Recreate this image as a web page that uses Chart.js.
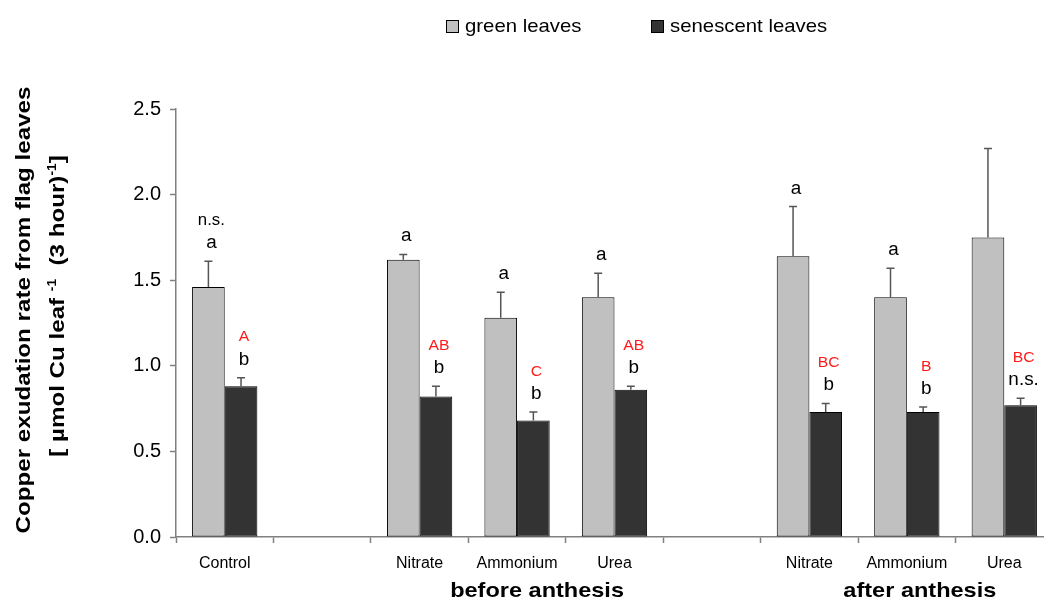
<!DOCTYPE html>
<html>
<head>
<meta charset="utf-8">
<title>Copper exudation rate from flag leaves</title>
<script src="https://cdn.jsdelivr.net/npm/chart.js@4.4.1/dist/chart.umd.min.js"></script>
<style>
  html, body { margin: 0; padding: 0; background: #ffffff; overflow: hidden; }
  #wrap { position: absolute; left: 0; top: 0; width: 1053px; height: 600px; }
  canvas { display: block; }
</style>
</head>
<body>
<div id="wrap"><canvas id="chart" width="1053" height="600"></canvas></div>
<script>
// Treatments along the x axis; empty entries separate the three blocks.
const categories = ['Control', '', 'Nitrate', 'Ammonium', 'Urea', '', 'Nitrate', 'Ammonium', 'Urea'];

// Mean Cu exudation rate and its error (upper half only is drawn).
const greenValues    = [1.46, null, 1.62, 1.28, 1.40, null, 1.64, 1.40, 1.75];
const greenErrors    = [0.15, null, 0.03, 0.15, 0.14, null, 0.29, 0.17, 0.52];
const senescentValues = [0.88, null, 0.82, 0.68, 0.86, null, 0.73, 0.73, 0.77];
const senescentErrors = [0.05, null, 0.06, 0.05, 0.02, null, 0.05, 0.03, 0.04];

// Significance letters above each bar.
const greenTopLetters     = ['n.s.', '', '', '', '', '', '', '', ''];
const greenLetters        = ['a', '', 'a', 'a', 'a', '', 'a', 'a', ''];
const senescentLetters    = ['b', '', 'b', 'b', 'b', '', 'b', 'b', 'n.s.'];
const treatmentLetters    = ['A', '', 'AB', 'C', 'AB', '', 'BC', 'B', 'BC'];

// Y axis range and tick step.
const yMin = 0, yMax = 2.5, yStep = 0.5;

// Block captions under the category labels.
const blockNames  = ['before anthesis', 'after anthesis'];
const blockFirst  = [2, 6];
const blockLast   = [4, 8];

const seriesNames = ['green leaves', 'senescent leaves'];
const errorSets = [greenErrors, senescentErrors];

const FONT = '"Liberation Sans", Arial, Helvetica, sans-serif';

// Text helper: optional horizontal stretch along the reading direction.
function stretchedText(ctx, text, x, y, size, bold, sx, align, baseline, color) {
  ctx.save();
  ctx.font = (bold ? 'bold ' : '') + size + 'px ' + FONT;
  ctx.fillStyle = color || '#000';
  ctx.textBaseline = baseline || 'middle';
  ctx.textAlign = 'left';
  const w = ctx.measureText(text).width * sx;
  let left = x;
  if (align === 'center') left = x - w / 2;
  else if (align === 'right') left = x - w;
  ctx.translate(left, y);
  ctx.scale(sx, 1);
  ctx.fillText(text, 0, 0);
  ctx.restore();
  return w;
}

// Upper error bars with caps.
const errorBarPlugin = {
  id: 'errorBars',
  afterDatasetsDraw(chart) {
    const ctx = chart.ctx;
    const y = chart.scales.y;
    ctx.save();
    ctx.strokeStyle = '#555555';
    ctx.lineWidth = 1.5;
    chart.data.datasets.forEach((ds, di) => {
      const meta = chart.getDatasetMeta(di);
      meta.data.forEach((bar, i) => {
        const v = ds.data[i];
        const e = errorSets[di][i];
        if (v == null || e == null) return;
        const top = y.getPixelForValue(v + e);
        ctx.beginPath();
        ctx.moveTo(bar.x, bar.y);
        ctx.lineTo(bar.x, top);
        ctx.moveTo(bar.x - 4, top);
        ctx.lineTo(bar.x + 4, top);
        ctx.stroke();
      });
    });
    ctx.restore();
  }
};

// Letters above bars.
const letterPlugin = {
  id: 'letters',
  afterDatasetsDraw(chart) {
    const ctx = chart.ctx;
    const y = chart.scales.y;
    const place = (di, i, stack) => {
      const ds = chart.data.datasets[di];
      const v = ds.data[i];
      if (v == null) return;
      const bar = chart.getDatasetMeta(di).data[i];
      const top = y.getPixelForValue(v + errorSets[di][i]);
      let cy = top - 18;
      stack.forEach(([txt, size, color]) => {
        if (txt) stretchedText(ctx, txt, bar.x + 3, cy, size, false, 1.05, 'center', 'middle', color);
        cy -= 22.5;
      });
    };
    categories.forEach((c, i) => {
      place(0, i, [[greenLetters[i], 18, '#000'], [greenTopLetters[i], 16, '#000']]);
      place(1, i, [[senescentLetters[i], 18, '#000'], [treatmentLetters[i], 15, '#ff1a1a']]);
    });
  }
};

// Legend, y-axis title and block captions.
const annotationPlugin = {
  id: 'annotations',
  afterDraw(chart) {
    const ctx = chart.ctx;
    const x = chart.scales.x;
    // legend
    const legendX = [446, 651];
    chart.data.datasets.forEach((ds, di) => {
      ctx.save();
      ctx.fillStyle = ds.backgroundColor;
      ctx.strokeStyle = '#000';
      ctx.lineWidth = 1;
      ctx.fillRect(legendX[di] + 0.5, 20.5, 12, 12);
      ctx.strokeRect(legendX[di] + 0.5, 20.5, 12, 12);
      ctx.restore();
      stretchedText(ctx, seriesNames[di], legendX[di] + 19, 27, 18.5, false, 1.1, 'left', 'middle');
    });

    // y-axis title, two rotated lines
    ctx.save();
    ctx.translate(30, 310);
    ctx.rotate(-Math.PI / 2);
    stretchedText(ctx, 'Copper exudation rate from flag leaves', 0, 0, 21, true, 1.15, 'center', 'alphabetic');
    ctx.restore();

    ctx.save();
    ctx.translate(63.5, 306);
    ctx.rotate(-Math.PI / 2);
    const parts = [
      ['[ µmol Cu leaf ', false],
      ['-1', true],
      ['  (3 hour)', false],
      ['-1', true],
      [']', false]
    ];
    const sx = 1.15;
    let total = 0;
    parts.forEach(([t, sup]) => {
      ctx.font = 'bold ' + (sup ? 12 : 21) + 'px ' + FONT;
      total += ctx.measureText(t).width * sx;
    });
    let cx = -total / 2;
    parts.forEach(([t, sup]) => {
      cx += stretchedText(ctx, t, cx, sup ? -8 : 0, sup ? 12 : 21, true, sx, 'left', 'alphabetic');
    });
    ctx.restore();

    // block captions
    const nudge = [20, 13];
    blockNames.forEach((name, k) => {
      const cxp = (x.getPixelForValue(blockFirst[k]) + x.getPixelForValue(blockLast[k])) / 2 + nudge[k];
      stretchedText(ctx, name, cxp, 591, 21, true, 1.12, 'center', 'middle');
    });
  }
};

new Chart(document.getElementById('chart'), {
  type: 'bar',
  data: {
    labels: categories,
    datasets: [
      {
        label: seriesNames[0],
        data: greenValues,
        backgroundColor: '#c0c0c0',
        borderColor: '#000000',
        borderWidth: 1,
        borderSkipped: false
      },
      {
        label: seriesNames[1],
        data: senescentValues,
        backgroundColor: '#333333',
        borderColor: '#000000',
        borderWidth: 1,
        borderSkipped: false
      }
    ]
  },
  options: {
    responsive: false,
    animation: false,
    devicePixelRatio: 1,
    layout: { padding: { top: 109, right: 0, bottom: 0, left: 0 } },
    datasets: { bar: { categoryPercentage: 0.67, barPercentage: 1.0 } },
    plugins: {
      legend: { display: false },
      tooltip: { enabled: false },
      title: { display: false }
    },
    scales: {
      x: {
        grid: {
          display: true,
          drawOnChartArea: false,
          drawTicks: true,
          tickLength: 6,
          tickWidth: 1.5,
          tickColor: '#808080',
          offset: true
        },
        border: { display: true, color: '#808080', width: 1.5 },
        ticks: {
          autoSkip: false,
          maxRotation: 0,
          minRotation: 0,
          padding: 11,
          color: '#000',
          font: { family: FONT, size: 16 }
        },
        afterFit(scale) { scale.height = 63; }
      },
      y: {
        min: yMin,
        max: yMax,
        grid: {
          display: true,
          drawOnChartArea: false,
          drawTicks: true,
          tickLength: 6,
          tickWidth: 1.5,
          tickColor: '#808080'
        },
        border: { display: true, color: '#808080', width: 1.5 },
        ticks: {
          stepSize: yStep,
          padding: 9,
          color: '#000',
          font: { family: FONT, size: 20 },
          callback: (v) => Number(v).toFixed(1)
        },
        afterFit(scale) { scale.width = 176; }
      }
    }
  },
  plugins: [errorBarPlugin, letterPlugin, annotationPlugin]
});
</script>
</body>
</html>
